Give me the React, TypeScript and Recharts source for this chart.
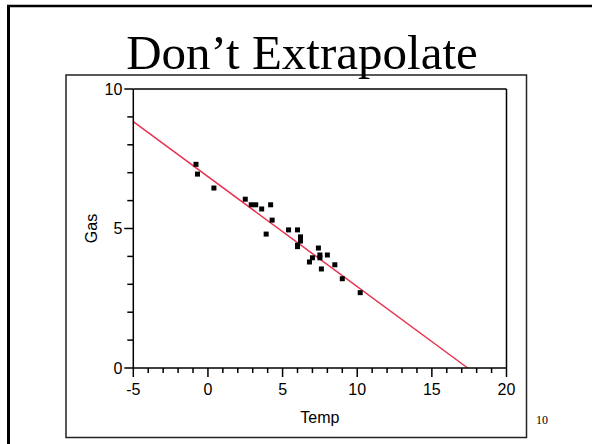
import React from "react";
import { ScatterChart, Scatter, XAxis, YAxis, ReferenceLine, Label } from "recharts";

// readings (Temp, Gas) estimated off the slide
const temp = [-0.8, -0.7, 0.4, 2.5, 2.9, 3.2, 4.2, 3.6, 4.3, 3.9, 5.4, 6.0, 6.2, 6.2, 6.0, 6.0, 7.4, 7.5, 7.5, 7.0, 6.8, 8.0, 7.6, 8.5, 9.0, 10.2];
const gas = [7.3, 6.95, 6.45, 6.05, 5.85, 5.85, 5.85, 5.7, 5.3, 4.8, 4.95, 4.95, 4.7, 4.55, 4.4, 4.35, 4.3, 4.05, 3.95, 3.95, 3.8, 4.05, 3.55, 3.7, 3.2, 2.7];

// fitted line end points
const fitTemp = [-5, 17.4];
const fitGas = [8.83, 0];

const xTicks = [-5, -4, -3, -2, -1, 0, 1, 2, 3, 4, 5, 6, 7, 8, 9, 10, 11, 12, 13, 14, 15, 16, 17, 18, 19, 20];
const yTicks = [0, 1, 2, 3, 4, 5, 6, 7, 8, 9, 10];

const points = temp.map((t, i) => ({ temp: t, gas: gas[i] }));

const SANS = "'Liberation Sans', Arial, sans-serif";
const SERIF = "'Liberation Serif', 'Times New Roman', serif";

const XTick = (props: any) => {
  const { x, y, payload } = props;
  const major = payload.value % 5 === 0;
  return (
    <g>
      <line x1={x} y1={y} x2={x} y2={y + (major ? 9 : 5)} stroke="#000" strokeWidth={1.5} />
      {major && (
        <text x={x} y={y + 26.5} textAnchor="middle" fontSize={16} fontFamily={SANS} fill="#000">
          {payload.value}
        </text>
      )}
    </g>
  );
};

const YTick = (props: any) => {
  const { x, y, payload } = props;
  const major = payload.value % 5 === 0;
  return (
    <g>
      <line x1={x} y1={y} x2={x - (major ? 9 : 6)} y2={y} stroke="#000" strokeWidth={1.5} />
      {major && (
        <text x={x - 11} y={y + 5.5} textAnchor="end" fontSize={16} fontFamily={SANS} fill="#000">
          {payload.value}
        </text>
      )}
    </g>
  );
};

const Square = (props: any) => {
  const { cx, cy } = props;
  return <rect x={cx - 2.5} y={cy - 2.5} width={5} height={5} fill="#000" />;
};

export default function App() {
  return (
    <div style={{ position: "absolute", left: 0, top: 0, width: 592, height: 444, background: "#fff" }}>
      <svg width={592} height={444} style={{ position: "absolute", left: 0, top: 0 }}>
        <line x1={8.5} y1={5} x2={8.5} y2={444} stroke="#000" strokeWidth={3} />
        <line x1={7} y1={6} x2={592} y2={6} stroke="#000" strokeWidth={2.5} />
        <rect x={66} y={75} width={460.5} height={362.5} fill="none" stroke="#222" strokeWidth={1.5} />
        <text x={302} y={68.5} textAnchor="middle" fontSize={49} fontFamily={SERIF} fill="#000">
          Don’t Extrapolate
        </text>
        <text x={542} y={424} textAnchor="middle" fontSize={12} fontFamily={SERIF} fill="#000">
          10
        </text>
      </svg>
      <div style={{ position: "absolute", left: 0, top: 0 }}>
        <ScatterChart width={592} height={444} margin={{ top: 88, right: 84.5, bottom: 75, left: 132.3 }}>
          <XAxis
            type="number"
            dataKey="temp"
            domain={[-5, 20]}
            ticks={xTicks}
            interval={0}
            height={1}
            tickSize={0}
            tickMargin={0}
            tickLine={false}
            tick={<XTick />}
            axisLine={{ stroke: "#000", strokeWidth: 1.5 }}
            allowDataOverflow
          >
            <Label
              content={(p: any) => {
                const vb = p.viewBox;
                return (
                  <text x={vb.x + vb.width / 2} y={vb.y + 55} textAnchor="middle" fontSize={16} fontFamily={SANS} fill="#000">
                    Temp
                  </text>
                );
              }}
            />
          </XAxis>
          <XAxis xAxisId="top" orientation="top" type="number" domain={[-5, 20]} height={1} tick={false} tickLine={false} axisLine={{ stroke: "#000", strokeWidth: 1.5 }} />
          <YAxis
            type="number"
            dataKey="gas"
            domain={[0, 10]}
            ticks={yTicks}
            interval={0}
            width={1}
            tickSize={0}
            tickMargin={0}
            tickLine={false}
            tick={<YTick />}
            axisLine={{ stroke: "#000", strokeWidth: 1.5 }}
            allowDataOverflow
          >
            <Label
              content={(p: any) => {
                const vb = p.viewBox;
                const cx = vb.x - 41;
                const cy = vb.y + vb.height / 2;
                return (
                  <text x={cx} y={cy} transform={`rotate(-90 ${cx} ${cy})`} textAnchor="middle" dominantBaseline="central" fontSize={16} fontFamily={SANS} fill="#000">
                    Gas
                  </text>
                );
              }}
            />
          </YAxis>
          <YAxis yAxisId="right" orientation="right" type="number" domain={[0, 10]} width={1} tick={false} tickLine={false} axisLine={{ stroke: "#000", strokeWidth: 1.5 }} />
          <ReferenceLine
            segment={[
              { x: fitTemp[0], y: fitGas[0] },
              { x: fitTemp[1], y: fitGas[1] },
            ]}
            stroke="#e8334f"
            strokeWidth={1.5}
            ifOverflow="visible"
          />
          <Scatter data={points} shape={<Square />} isAnimationActive={false} />
        </ScatterChart>
      </div>
    </div>
  );
}
